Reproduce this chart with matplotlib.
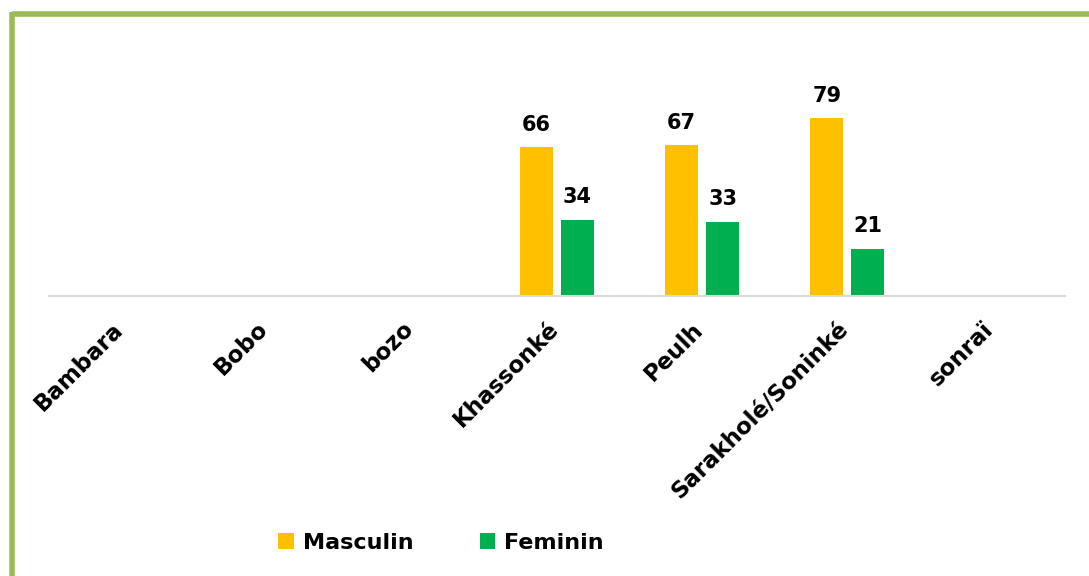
"""Bar chart: Masculin / Feminin share by ethnic group."""

import numpy as np
import matplotlib
matplotlib.use("Agg")
import matplotlib.pyplot as plt
import matplotlib.transforms as mtransforms
from matplotlib.lines import Line2D

# Data
categories = ["Bambara", "Bobo", "bozo", "Khassonké", "Peulh",
              "Sarakholé/Soninké", "sonraï"]
masculin = [np.nan, np.nan, np.nan, 66, 67, 79, np.nan]
feminin = [np.nan, np.nan, np.nan, 34, 33, 21, np.nan]
series_names = ["Masculin", "Feminin"]

col_m = "#FFC000"
col_f = "#00B050"
border = "#9BBB59"

plt.rcParams["font.family"] = ["DejaVu Sans"]
plt.rcParams["font.weight"] = "bold"

fig = plt.figure(figsize=(10.89, 5.76), dpi=100)
ax = fig.add_axes([0.045, 0.486, 0.933, 0.43])

x = np.arange(len(categories))
w = 0.227
gap = 0.055
off = (w + gap) / 2
b1 = ax.bar(x - off, masculin, w, color=col_m, label=series_names[0])
b2 = ax.bar(x + off, feminin, w, color=col_f, label=series_names[1])

# Data labels above bars
for bars, vals in ((b1, masculin), (b2, feminin)):
    for rect, v in zip(bars, vals):
        if np.isnan(v):
            continue
        ax.annotate(f"{v:.0f}", (rect.get_x() + rect.get_width() / 2, v),
                    xytext=(0, 9), textcoords="offset points",
                    ha="center", va="bottom", fontsize=15, fontweight="bold")

ax.set_xlim(-0.5, len(categories) - 0.5)
ax.set_ylim(0, 110)
ax.set_yticks([])
for s in ("top", "right", "left"):
    ax.spines[s].set_visible(False)
ax.spines["bottom"].set_color("#D9D9D9")
ax.spines["bottom"].set_linewidth(1.5)
ax.set_xticks(x)
ax.set_xticklabels(categories, rotation=45, ha="right", fontsize=16.5,
                   fontweight="bold")
ax.tick_params(axis="x", length=0, pad=14)

# nudge rotated labels slightly to the right
shift = mtransforms.ScaledTranslation(6 / 100, -2 / 100, fig.dpi_scale_trans)
for lbl in ax.get_xticklabels():
    lbl.set_transform(lbl.get_transform() + shift)

# Legend at the bottom
fig.legend(handles=[b1, b2], loc="center", ncol=2,
           bbox_to_anchor=(441 / 1089, 1 - 543 / 576), frameon=False,
           handlelength=0.7, handleheight=0.7,
           handletextpad=0.4, columnspacing=3.0,
           prop={"weight": "bold", "size": 16})

# Green frame lines (top and left)
fig.add_artist(Line2D([12 / 1089, 1.0], [1 - 14 / 576, 1 - 14 / 576],
                      color=border, lw=4, transform=fig.transFigure,
                      solid_capstyle="butt"))
fig.add_artist(Line2D([12 / 1089, 12 / 1089], [0, 1 - 12 / 576],
                      color=border, lw=4, transform=fig.transFigure,
                      solid_capstyle="butt"))

fig.savefig("out.png", dpi=100)
